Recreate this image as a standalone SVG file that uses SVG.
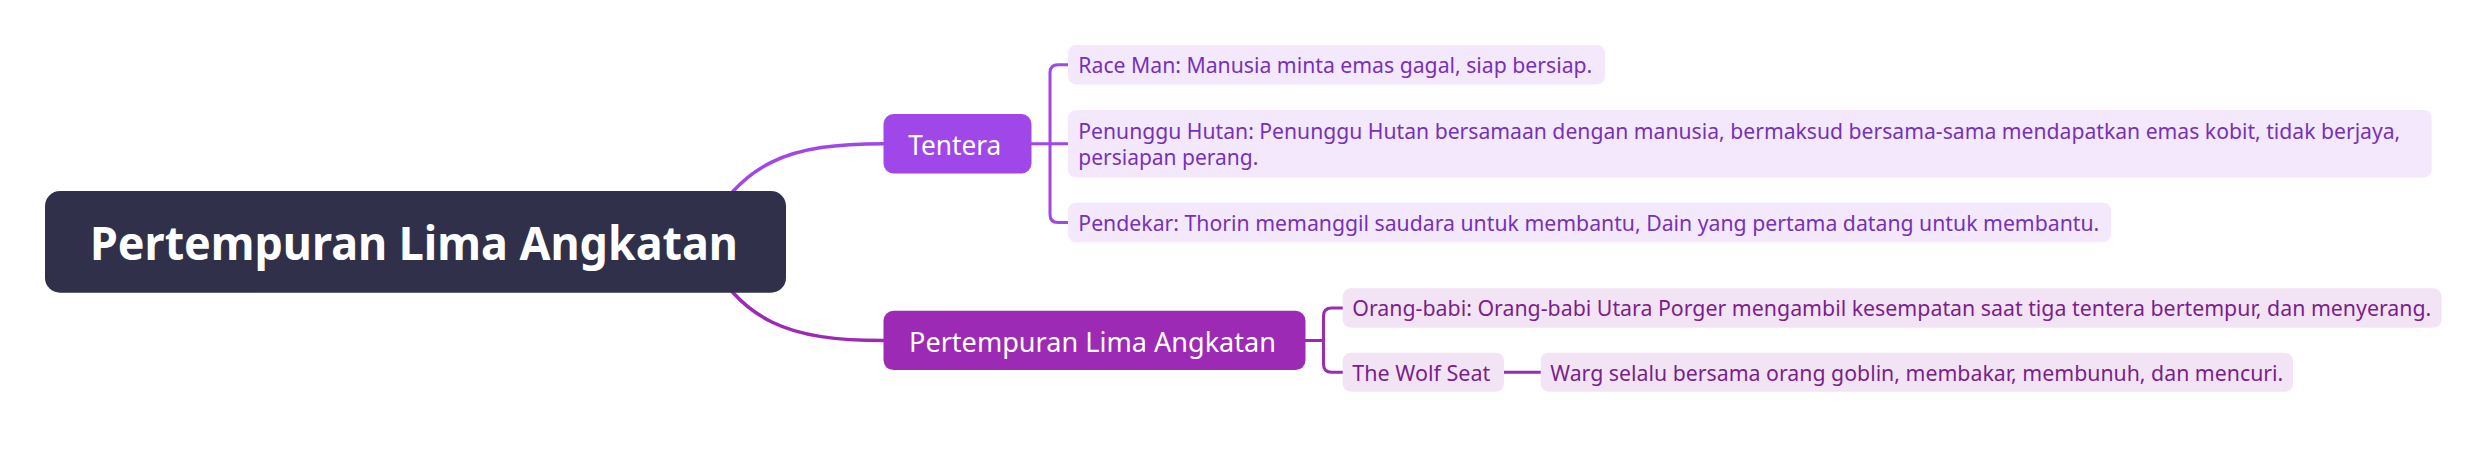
<svg xmlns="http://www.w3.org/2000/svg" width="2489" height="453" viewBox="0 0 2489 453">
<style>
text{font-family:"Noto Sans","Open Sans",sans-serif;}
.root{fill:#fff;font-size:46px;font-weight:bold;}
.br{fill:#fff;font-size:28px;}
.lf{font-size:22px;}
.t1{fill:#7631b9;}
.t2{fill:#7a1f8c;}
.b1{fill:#f4e8fd;}
.b2{fill:#f3e4f5;}
.c1{fill:none;stroke:#a047ea;stroke-width:3;}
.c2{fill:none;stroke:#9c2ab5;stroke-width:3;}
</style>
<rect width="2489" height="453" fill="#ffffff"/>
<g id="connectors">
<path class="c1" d="M700 242 C740 160 790 143.7 884 143.7" style="stroke-width:3.5"/>
<path class="c2" d="M700 242 C740 324 790 340.5 884 340.5" style="stroke-width:3.5"/>
<path class="c1" d="M1031 143.7 H1068"/>
<path class="c1" d="M1068 64.7 H1058 Q1050 64.7 1050 72.7 V214.5 Q1050 222.5 1058 222.5 H1068"/>
<path class="c2" d="M1305 340.5 H1323.5"/>
<path class="c2" d="M1343 308 H1331.5 Q1323.5 308 1323.5 316 V364.2 Q1323.5 372.2 1331.5 372.2 H1343"/>
<path class="c2" d="M1504 372.2 H1541"/>
</g>
<g id="root">
<rect x="45" y="191" width="741" height="101.7" rx="15" fill="#30304b"/>
<text class="root" x="90" y="260" textLength="648" lengthAdjust="spacingAndGlyphs">Pertempuran Lima Angkatan</text>
</g>
<g id="tentera">
<rect x="883.5" y="114" width="148" height="59.4" rx="10" fill="#a047ea"/>
<text class="br" x="908.3" y="155" textLength="93" lengthAdjust="spacingAndGlyphs">Tentera</text>
</g>
<g id="pertempuran">
<rect x="883.5" y="310.7" width="422" height="59.4" rx="10" fill="#9c2ab5"/>
<text class="br" x="909" y="351.6" textLength="367" lengthAdjust="spacingAndGlyphs">Pertempuran Lima Angkatan</text>
</g>
<g id="race-man">
<rect class="b1" x="1068" y="45" width="537" height="39.4" rx="8"/>
<text class="lf t1" x="1078.3" y="73.3" textLength="514" lengthAdjust="spacingAndGlyphs">Race Man: Manusia minta emas gagal, siap bersiap.</text>
</g>
<g id="penunggu-hutan">
<rect class="b1" x="1068" y="110" width="1363.7" height="67.5" rx="8"/>
<text class="lf t1" x="1078.3" y="139.3" textLength="1322" lengthAdjust="spacingAndGlyphs">Penunggu Hutan: Penunggu Hutan bersamaan dengan manusia, bermaksud bersama-sama mendapatkan emas kobit, tidak berjaya,</text>
<text class="lf t1" x="1078.3" y="165.3" textLength="180" lengthAdjust="spacingAndGlyphs">persiapan perang.</text>
</g>
<g id="pendekar">
<rect class="b1" x="1068" y="202.7" width="1043" height="39.6" rx="8"/>
<text class="lf t1" x="1078.3" y="231" textLength="1021" lengthAdjust="spacingAndGlyphs">Pendekar: Thorin memanggil saudara untuk membantu, Dain yang pertama datang untuk membantu.</text>
</g>
<g id="orang-babi">
<rect class="b2" x="1342.7" y="288.3" width="1099" height="39.4" rx="8"/>
<text class="lf t2" x="1352.3" y="316.3" textLength="1079" lengthAdjust="spacingAndGlyphs">Orang-babi: Orang-babi Utara Porger mengambil kesempatan saat tiga tentera bertempur, dan menyerang.</text>
</g>
<g id="wolf-seat">
<rect class="b2" x="1342.7" y="352.7" width="161.3" height="39" rx="8"/>
<text class="lf t2" x="1352.3" y="380.7" textLength="138" lengthAdjust="spacingAndGlyphs">The Wolf Seat</text>
</g>
<g id="warg">
<rect class="b2" x="1540.7" y="352.7" width="752.3" height="39" rx="8"/>
<text class="lf t2" x="1550.3" y="380.7" textLength="733" lengthAdjust="spacingAndGlyphs">Warg selalu bersama orang goblin, membakar, membunuh, dan mencuri.</text>
</g>
</svg>
